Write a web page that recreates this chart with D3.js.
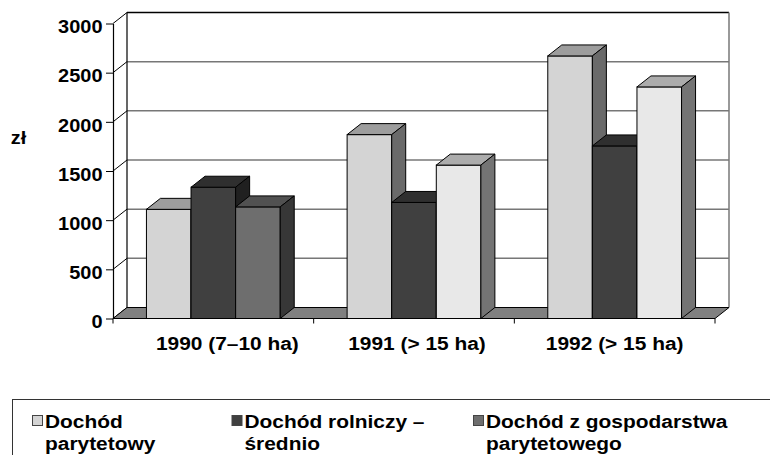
<!DOCTYPE html>
<html>
<head>
<meta charset="utf-8">
<script src="https://cdn.jsdelivr.net/npm/d3@7"></script>
<style>
    body { margin: 0; background: #fff; }
    text { font-family: "Liberation Sans", Arial, sans-serif; font-weight: bold; fill: #000; }
</style>
</head>
<body>
<div id="chart"></div>
<script>
// data
const categories = ["1990 (7–10 ha)", "1991 (> 15 ha)", "1992 (> 15 ha)"];
const seriesNames = ["Dochód parytetowy", "Dochód rolniczy – średnio", "Dochód z gospodarstwa parytetowego"];
const legendLines = [["Dochód", "parytetowy"], ["Dochód rolniczy –", "średnio"], ["Dochód z gospodarstwa", "parytetowego"]];
const parytetowy = [1110, 1870, 2670];
const rolniczy = [1335, 1180, 1755];
const zGospodarstwa = [1135, 1560, 2355];
const yTicks = [0, 500, 1000, 1500, 2000, 2500, 3000];
const yLabel = "zł";

// styles
const seriesFill = ["#d4d4d4", "#404040", "#6e6e6e"];
const barFill = [
    ["#d4d4d4", "#404040", "#6e6e6e"],
    ["#d4d4d4", "#404040", "#e8e8e8"],
    ["#d4d4d4", "#404040", "#e8e8e8"]
];
const labelShift = [14, 3, 0];
const DX = 14, DY = -11;
const SX = 1.1; // text is a bit wider than plain Arial

function shade(c, k) {
    const col = d3.color(c);
    return d3.rgb(col.r * k, col.g * k, col.b * k).formatHex();
}

function main() {
    const values = [parytetowy, rolniczy, zGospodarstwa];
    const data = categories.map(function(cat, i) {
        return values.map(function(v, s) { return {cat: cat, ci: i, s: s, value: v[i]}; });
    });
    drawChart(data);
}

function drawChart(data) {
    const width = 770, height = 455;

    const svg = d3.select("#chart")
        .append("svg")
        .attr("width", width)
        .attr("height", height);

    const yScale = d3.scaleLinear().domain([0, 3000]).range([318.5, 23.5]);
    const x0 = d3.scaleBand().domain(categories).range([113, 715]);
    const x1 = d3.scaleBand().domain(d3.range(3)).range([0, x0.bandwidth()]).paddingOuter(0.75);

    const left = x0.range()[0], right = x0.range()[1];
    const y0 = yScale(0), yTop = yScale(3000);

    // back wall
    svg.append("rect")
        .attr("x", left + DX).attr("y", yTop + DY)
        .attr("width", right - left).attr("height", y0 - yTop)
        .attr("fill", "#fff");

    svg.selectAll(".grid")
        .data(yTicks.filter(function(t) { return t > 0 && t < 3000; }))
        .enter()
        .append("line")
        .attr("class", "grid")
        .attr("x1", left + DX).attr("x2", right + DX)
        .attr("y1", function(t) { return yScale(t) + DY; })
        .attr("y2", function(t) { return yScale(t) + DY; })
        .attr("stroke", "#777").attr("stroke-width", 1.5);

    // top edge of back wall
    svg.append("line")
        .attr("x1", left + DX).attr("x2", right + DX)
        .attr("y1", yTop + DY).attr("y2", yTop + DY)
        .attr("stroke", "#000").attr("stroke-width", 1.5);
    // right edge
    svg.append("line")
        .attr("x1", right + DX).attr("x2", right + DX)
        .attr("y1", yTop + DY).attr("y2", y0 + DY)
        .attr("stroke", "#777").attr("stroke-width", 1.5);
    // left back edge
    svg.append("line")
        .attr("x1", left + DX).attr("x2", left + DX)
        .attr("y1", yTop + DY).attr("y2", y0 + DY)
        .attr("stroke", "#000").attr("stroke-width", 1.2);

    // side wall diagonals
    svg.selectAll(".diag")
        .data(yTicks)
        .enter()
        .append("line")
        .attr("class", "diag")
        .attr("x1", left).attr("x2", left + DX)
        .attr("y1", function(t) { return yScale(t); })
        .attr("y2", function(t) { return yScale(t) + DY; })
        .attr("stroke", "#000").attr("stroke-width", 1);

    // floor
    svg.append("polygon")
        .attr("points", [[left, y0], [right, y0], [right + DX, y0 + DY], [left + DX, y0 + DY]].join(" "))
        .attr("fill", "#808080")
        .attr("stroke", "#000").attr("stroke-width", 1);

    // bars
    const bars = svg.selectAll(".bar")
        .data(data.flat())
        .enter()
        .append("g")
        .attr("class", "bar");

    bars.each(function(d) {
        const g = d3.select(this);
        const x = x0(d.cat) + x1(d.s);
        const w = x1.bandwidth();
        const yv = yScale(d.value);
        const fill = barFill[d.ci][d.s];

        g.append("rect")
            .attr("x", x).attr("y", yv)
            .attr("width", w).attr("height", y0 - yv)
            .attr("fill", fill)
            .attr("stroke", "#000").attr("stroke-width", 1);
        g.append("polygon")
            .attr("points", [[x, yv], [x + DX, yv + DY], [x + w + DX, yv + DY], [x + w, yv]].join(" "))
            .attr("fill", shade(fill, 0.74))
            .attr("stroke", "#000").attr("stroke-width", 1).attr("stroke-linejoin", "round");
        g.append("polygon")
            .attr("points", [[x + w, yv], [x + w + DX, yv + DY], [x + w + DX, y0 + DY], [x + w, y0]].join(" "))
            .attr("fill", shade(fill, 0.5))
            .attr("stroke", "#000").attr("stroke-width", 1).attr("stroke-linejoin", "round");
    });

    // y axis
    const yAxis = svg.append("g")
        .attr("transform", `translate(${left}, 0)`)
        .call(d3.axisLeft(yScale).tickValues(yTicks).tickSize(7).tickSizeOuter(0).tickFormat(d3.format("d")));
    yAxis.select(".domain").attr("stroke", "#000").attr("stroke-width", 1.2);
    yAxis.selectAll(".tick line").attr("stroke", "#000");
    yAxis.selectAll(".tick text")
        .attr("x", 0).attr("dy", "0.5em")
        .attr("transform", "translate(-10.5, 0) scale(1.08, 1)")
        .style("font-size", "18.5px");

    // x axis
    svg.append("line")
        .attr("x1", left).attr("x2", right)
        .attr("y1", y0).attr("y2", y0)
        .attr("stroke", "#000").attr("stroke-width", 1.2);
    svg.selectAll(".xtick")
        .data(categories.map(function(c) { return x0(c); }).concat([right]))
        .enter()
        .append("line")
        .attr("class", "xtick")
        .attr("x1", function(d) { return d; }).attr("x2", function(d) { return d; })
        .attr("y1", y0).attr("y2", y0 + 5)
        .attr("stroke", "#000");

    svg.selectAll(".xlabel")
        .data(categories)
        .enter()
        .append("text")
        .attr("class", "xlabel")
        .attr("text-anchor", "middle")
        .attr("transform", function(c, i) {
            return `translate(${x0(c) + x0.bandwidth() / 2 + labelShift[i]}, 350) scale(${SX}, 1)`;
        })
        .style("font-size", "19px")
        .text(function(c) { return c; });

    // y axis title
    svg.append("text")
        .attr("text-anchor", "middle")
        .attr("transform", `translate(18.5, 144) scale(${SX}, 1)`)
        .style("font-size", "18px")
        .text(yLabel);

    // legend
    svg.append("rect")
        .attr("x", 12.5).attr("y", 399.5)
        .attr("width", 800).attr("height", 100)
        .attr("fill", "#fff")
        .attr("stroke", "#333").attr("stroke-width", 1);

    const legendX = [32, 231.5, 473];
    const items = svg.selectAll(".legend")
        .data(seriesNames)
        .enter()
        .append("g")
        .attr("class", "legend")
        .attr("transform", function(d, i) { return `translate(${legendX[i]}, 415)`; });

    items.append("rect")
        .attr("x", 0.5).attr("y", 0.5)
        .attr("width", 10).attr("height", 10)
        .attr("fill", function(d, i) { return seriesFill[i]; })
        .attr("stroke", "#444").attr("stroke-width", 1);

    items.each(function(d, i) {
        const g = d3.select(this);
        legendLines[i].forEach(function(line, k) {
            g.append("text")
                .attr("transform", `translate(13, ${13 + k * 22}) scale(${SX}, 1)`)
                .style("font-size", "19px")
                .text(line);
        });
    });
}

main();
</script>
</body>
</html>
